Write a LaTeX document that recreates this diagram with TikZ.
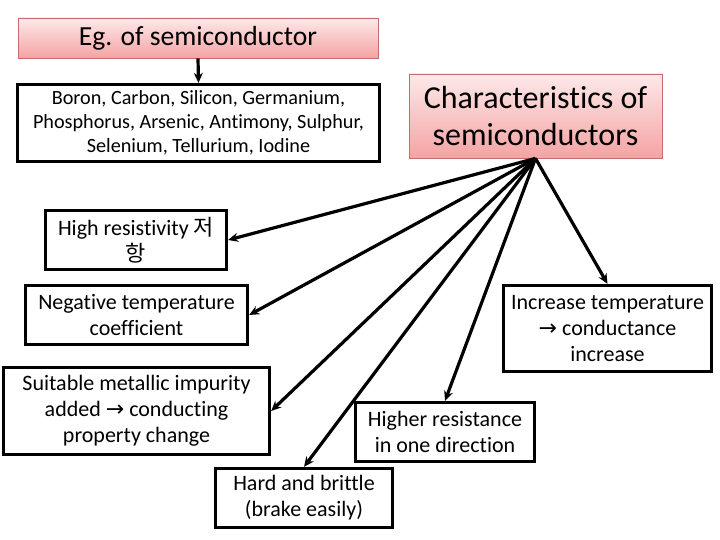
\documentclass[tikz,border=0pt]{standalone}
\usepackage{fontspec}
\setmainfont{Carlito}[Ligatures={NoCommon}]
\newfontfamily\krfont{Noto Sans CJK KR}
\newfontfamily\symfont{DejaVu Sans}
\usepackage{xcolor}
\usetikzlibrary{arrows.meta}
\definecolor{pinktop}{HTML}{FDE9E9}
\definecolor{pinkbottom}{HTML}{F4A3A3}
\definecolor{pinkedge}{HTML}{C96B6B}
\newcommand{\rarr}{{\symfont\char"2192}}

\begin{document}
\begin{tikzpicture}[x=1pt,y=-1pt,
	pinkbox/.style={draw=pinkedge, line width=0.8pt, top color=pinktop, bottom color=pinkbottom,
		align=center, inner sep=0pt},
	plainbox/.style={draw=black, line width=3.3pt, fill=white, align=center, inner sep=0pt},
	boxtext/.style={font=\fontsize{22}{26}\selectfont},
	linkarrow/.style={-{Stealth[length=10pt,width=9pt]}, line width=3.2pt}]
	% Fixed white canvas, one unit per pixel of the 720x540 slide.
	\path[use as bounding box] (0,0) rectangle (720,540);
	\fill[white] (0,0) rectangle (720,540);

	% Example branch: heading and the list of elements.
	\node[pinkbox, minimum width=360, minimum height=40, font=\fontsize{27.6}{32}\selectfont]
		(egtitle) at (198,38) {Eg. of semiconductor};
	\node[plainbox, minimum width=362, minimum height=77, font=\fontsize{20.2}{24}\selectfont]
		(elements) at (198.5,123)
		{Boron, Carbon, Silicon, Germanium,\\Phosphorus, Arsenic, Antimony, Sulphur,\\Selenium, Tellurium, Iodine};
	\draw[linkarrow] (egtitle.south) -- (elements.north);

	% Characteristics branch: the heading all arrows fan out from.
	\node[pinkbox, minimum width=253, minimum height=84, font=\fontsize{32}{37}\selectfont]
		(charac) at (535.5,116) {Characteristics of\\semiconductors};

	% One box per property.
	\node[plainbox, boxtext, minimum width=181, minimum height=59]
		(highres) at (136,240) {High resistivity {\krfont 저}\\{\krfont 항}};
	\node[plainbox, boxtext, minimum width=222, minimum height=59]
		(negtemp) at (136.5,315) {Negative temperature\\coefficient};
	\node[plainbox, boxtext, minimum width=266, minimum height=87]
		(impurity) at (136.5,411) {Suitable metallic impurity\\added \rarr{} conducting\\property change};
	\node[plainbox, boxtext, minimum width=177, minimum height=59]
		(brittle) at (304,498) {Hard and brittle\\(brake easily)};
	\node[plainbox, boxtext, minimum width=179, minimum height=59]
		(onedir) at (445,432) {Higher resistance\\in one direction};
	\node[plainbox, boxtext, minimum width=208, minimum height=86]
		(inctemp) at (607.5,328.5) {Increase temperature\\\rarr{} conductance\\increase};

	% Fan of arrows from the characteristics heading.
	\draw[linkarrow] (charac.south) -- (highres.east);
	\draw[linkarrow] (charac.south) -- (negtemp.east);
	\draw[linkarrow] (charac.south) -- (impurity.east);
	\draw[linkarrow] (charac.south) -- (brittle.north);
	\draw[linkarrow] (charac.south) -- (onedir.north);
	\draw[linkarrow] (charac.south) -- (inctemp.north);
\end{tikzpicture}
\end{document}
